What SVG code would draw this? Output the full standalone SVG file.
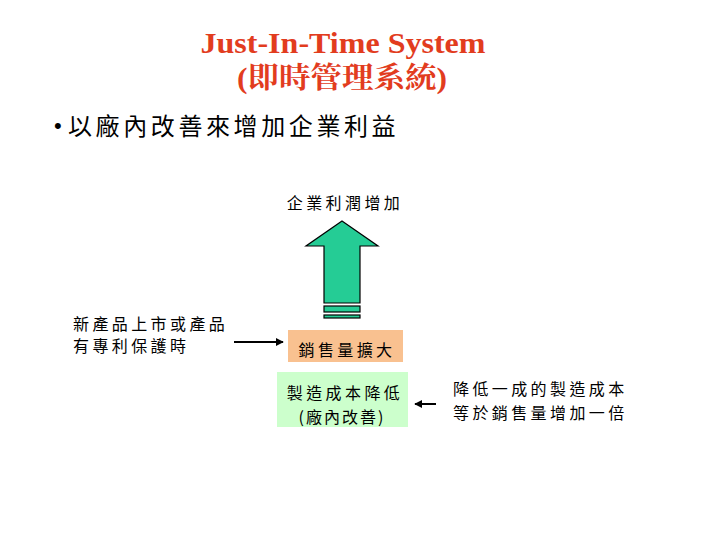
<svg xmlns="http://www.w3.org/2000/svg" width="720" height="540" viewBox="0 0 720 540">
<style>
.title{font-family:"Liberation Serif","Noto Serif CJK TC","Noto Sans CJK TC",serif;font-weight:bold;font-size:29px;fill:#e23c1e;text-anchor:middle}
.cjk{font-family:"Noto Sans CJK TC",serif;fill:#000}
.lbl{font-size:16px;letter-spacing:3.4px}
.mid{text-anchor:middle}
.ln{stroke:#000;stroke-width:2;fill:none}
</style>
<defs>
<marker id="ah" viewBox="0 0 10 10" refX="9" refY="5" markerWidth="4" markerHeight="4" orient="auto">
<path d="M0,0 L10,5 L0,10 z" fill="#000"/>
</marker>
</defs>
<rect width="720" height="540" fill="#fff"/>
<g id="title">
<text class="title" x="343" y="53" textLength="285" lengthAdjust="spacingAndGlyphs">Just-In-Time System</text>
<text class="title" x="342" y="88" textLength="210" lengthAdjust="spacingAndGlyphs">(即時管理系統)</text>
</g>
<g id="bullet">
<text x="54" y="133" font-family="Liberation Sans,sans-serif" font-size="22" fill="#000">•</text>
<text class="cjk" x="68" y="135" font-size="24" style="letter-spacing:3.6px">以廠內改善來增加企業利益</text>
</g>
<g id="profit">
<text class="cjk lbl mid" x="345" y="209">企業利潤增加</text>
</g>
<g id="bigarrow" fill="#25cc95" stroke="#000" stroke-width="1.2">
<path d="M342,221 L378,246 L360,246 L360,303 L324,303 L324,246 L306,246 Z"/>
<rect x="324" y="306" width="36" height="6"/>
<rect x="324" y="315" width="36" height="3"/>
</g>
<g id="newproduct">
<text class="cjk lbl" x="73" y="330">新產品上市或產品</text>
<text class="cjk lbl" x="73" y="352">有專利保護時</text>
</g>
<g id="sales">
<rect x="288" y="330" width="115" height="32" fill="#f9c190"/>
<text class="cjk lbl mid" x="347" y="356">銷售量擴大</text>
</g>
<g id="cost">
<rect x="277" y="372" width="131" height="55" fill="#ccffcc"/>
<text class="cjk lbl mid" x="345" y="399">製造成本降低</text>
<text class="cjk lbl mid" x="342" y="423" style="letter-spacing:2px">(廠內改善)</text>
</g>
<g id="note">
<text class="cjk lbl" x="453" y="395">降低一成的製造成本</text>
<text class="cjk lbl" x="453" y="419">等於銷售量增加一倍</text>
</g>
<g id="connectors">
<line class="ln" x1="234" y1="342" x2="283" y2="342" marker-end="url(#ah)"/>
<line class="ln" x1="436" y1="404" x2="415" y2="404" marker-end="url(#ah)"/>
</g>
</svg>
